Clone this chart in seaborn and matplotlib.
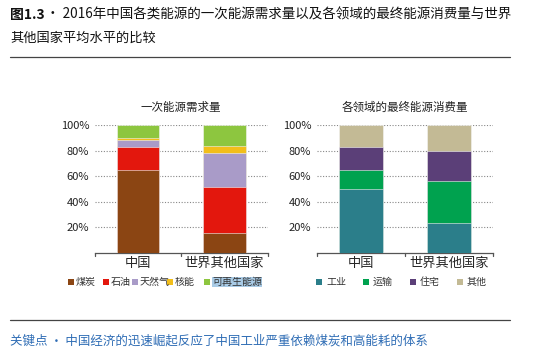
import numpy as np
import pandas as pd
import seaborn as sns
import matplotlib.pyplot as plt
from matplotlib.patches import Rectangle
from matplotlib.ticker import PercentFormatter

# 数据 (百分比, 从图上读取)
regions = ['中国', '世界其他国家']

fuel_names = ['煤炭', '石油', '天然气', '核能', '可再生能源']
fuel_colors = ['#8B4513', '#E3170D', '#A99BC8', '#F2BE1A', '#8DC63F']
coal = [64.5, 16]
oil = [18.5, 35.5]
gas = [5.5, 26.5]
nuclear = [1.5, 5.5]
renewable = [10, 16.5]

sector_names = ['工业', '运输', '住宅', '其他']
sector_colors = ['#2B7E8A', '#00A24F', '#5B3F78', '#C3BA95']
industry = [50, 23.5]
transport = [15, 32.5]
residential = [18, 24]
other = [17, 20]

sns.set_style('white')
plt.rcParams['font.family'] = ['Noto Sans CJK SC', 'DejaVu Sans']

W, H = 554, 357
fig = plt.figure(figsize=(W / 100, H / 100), dpi=100)
ax1 = fig.add_axes([0.171, 0.291, 0.312, 0.359])
ax2 = fig.add_axes([0.572, 0.291, 0.318, 0.359])


def stacked(ax, layers, colors, title):
    df = pd.DataFrame(dict(zip(range(len(layers)), layers)), index=regions)
    cum = df.cumsum(axis=1)
    # 从最上层开始画, 下层覆盖上层
    for i in reversed(range(len(layers))):
        sns.barplot(x=regions, y=cum[i].values / 100, color=colors[i],
                    width=0.49, saturation=1, ax=ax, zorder=3,
                    edgecolor='#f4f4f4', linewidth=0.4)
    ax.set_ylim(0, 1.0)
    ax.set_xlim(-0.5, 1.5)
    ax.set_yticks([0.2, 0.4, 0.6, 0.8, 1.0])
    ax.yaxis.set_major_formatter(PercentFormatter(1.0, decimals=0))
    ax.yaxis.grid(True, linestyle=(0, (1, 1.5)), color='#888888', linewidth=0.8, zorder=0)
    for s in ['top', 'right', 'left']:
        ax.spines[s].set_visible(False)
    ax.spines['bottom'].set_color('#555555')
    ax.spines['bottom'].set_linewidth(0.9)
    ax.tick_params(axis='y', length=0, labelsize=8, pad=4, labelcolor='#222222')
    ax.set_xticks([0, 1])
    ax.set_xticklabels(regions, fontsize=9.5)
    ax.tick_params(axis='x', length=0, pad=3)
    # 类别分隔刻度
    for xb in [-0.5, 0.5, 1.5]:
        ax.plot([xb, xb], [0, -0.025], color='#555555', lw=0.9, clip_on=False)
    ax.set_xlabel('')
    ax.set_ylabel('')
    ax.set_title(title, fontsize=8.3, pad=10, color='#222222')


stacked(ax1, [coal, oil, gas, nuclear, renewable], fuel_colors, '一次能源需求量')
stacked(ax2, [industry, transport, residential, other], sector_colors, '各领域的最终能源消费量')


# 图例: 手动排列 (像素位置)
def legend_row(names, colors, xs, y=282, gap=8, highlight=None):
    for k, (name, c, x) in enumerate(zip(names, colors, xs)):
        fig.add_artist(Rectangle(((x) / W, 1 - (y + 3) / H), 6 / W, 6 / H,
                                 facecolor=c, edgecolor='none', transform=fig.transFigure))
        t = fig.text((x + gap) / W, 1 - y / H, name, fontsize=7.2, va='center',
                     color='#333333')
        if k == highlight:
            t.set_bbox(dict(facecolor='#A9CBE6', edgecolor='none', pad=0.3))


legend_row(fuel_names, fuel_colors, [68, 103, 132, 167, 204], highlight=4)
legend_row(sector_names, sector_colors, [316, 363, 410, 457], gap=10)

# 标题
fig.text(0.018, 0.958, '图1.3', fontsize=10, fontweight='bold', va='center', color='#111111')
fig.text(0.083, 0.958, '· 2016年中国各类能源的一次能源需求量以及各领域的最终能源消费量与世界',
         fontsize=9.75, va='center', color='#111111')
fig.text(0.018, 0.893, '其他国家平均水平的比较', fontsize=9.5, va='center', color='#111111')
fig.add_artist(plt.Line2D([0.018, 0.921], [0.84, 0.84], color='#444444', lw=0.9))

fig.add_artist(plt.Line2D([0.018, 0.921], [0.104, 0.104], color='#444444', lw=0.9))
fig.text(0.018, 0.045, '关键点 · 中国经济的迅速崛起反应了中国工业严重依赖煤炭和高能耗的体系',
         fontsize=9.0, va='center', color='#2F6DB5')

fig.savefig('out.png', dpi=100)
